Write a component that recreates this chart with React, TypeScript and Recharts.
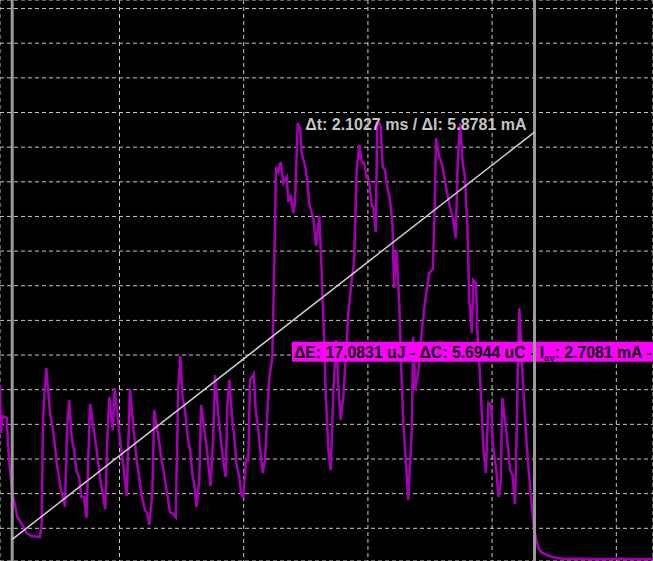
import React from 'react';
import { LineChart, Line, XAxis, YAxis, CartesianGrid, ReferenceLine, ReferenceArea } from 'recharts';

// Sample times (ms)
const timeMs = [
  0.0189, 0.0229, 0.0298, 0.0459, 0.0523, 0.0592, 0.0684, 0.0793, 0.0886, 0.1063,
  0.1264, 0.1465, 0.18, 0.1868, 0.192, 0.2053, 0.2134, 0.2202, 0.2335, 0.2496,
  0.2633, 0.2806, 0.2886, 0.2975, 0.3076, 0.3168, 0.3269, 0.3382, 0.3462, 0.3571,
  0.3671, 0.3812, 0.3945, 0.4066, 0.4215, 0.4428, 0.4509, 0.4589, 0.4726, 0.4807,
  0.4887, 0.502, 0.5161, 0.529, 0.5423, 0.5544, 0.5705, 0.5906, 0.6027, 0.6119,
  0.62, 0.6321, 0.6397, 0.6498, 0.6602, 0.6699, 0.6791, 0.69, 0.7033, 0.7166,
  0.7263, 0.7367, 0.7448, 0.7536, 0.7637, 0.7746, 0.785, 0.7947, 0.8011, 0.81,
  0.8209, 0.8289, 0.8382, 0.8511, 0.8664, 0.8776, 0.8845, 0.8977, 0.9074, 0.9179,
  0.9275, 0.934, 0.942, 0.9541, 0.9622, 0.9718, 0.9823, 0.9891, 0.9984, 1.0093,
  1.0185, 1.0254, 1.0334, 1.0403, 1.0483, 1.0588, 1.0656, 1.0765, 1.0858, 1.095,
  1.1031, 1.1151, 1.1232, 1.13, 1.1393, 1.149, 1.1594, 1.1731, 1.1796, 1.1892,
  1.1997, 1.2065, 1.2174, 1.2267, 1.2335, 1.2508, 1.2577, 1.2641, 1.2802, 1.2911,
  1.3044, 1.314, 1.3233, 1.3313, 1.3406, 1.3503, 1.3607, 1.3716, 1.3825, 1.3905,
  1.401, 1.4118, 1.4211, 1.4348, 1.4441, 1.4549, 1.4654, 1.4751, 1.4843, 1.4952,
  1.5044, 1.5153, 1.5218, 1.5314, 1.5379, 1.5459, 1.5515, 1.5596, 1.5688, 1.5781,
  1.589, 1.599, 1.6051, 1.6152, 1.6264, 1.6333, 1.6425, 1.6627, 1.6763, 1.6828,
  1.6896, 1.7029, 1.7166, 1.7299, 1.7472, 1.7609, 1.7673, 1.7742, 1.7875, 1.8011,
  1.8144, 1.8305, 1.8414, 1.8535, 1.8615, 1.8708, 1.8816, 1.8909, 1.9002, 1.9082,
  1.9179, 1.9243, 1.9352, 1.9404, 1.9485, 1.9565, 1.9646, 1.9754, 1.9847, 1.9956,
  2.0036, 2.0157, 2.0258, 2.0346, 2.0411, 2.054, 2.062, 2.0721, 2.0822, 2.0922,
  2.099, 2.1043, 2.1095, 2.1192, 2.1256, 2.1393, 2.1498, 2.1606, 2.1687, 2.1788,
  2.186, 2.1997, 2.2198, 2.2464, 2.2866, 2.3539, 2.4344, 2.5149, 2.5954, 2.6477,
];

// Measured current (mA)
const currentMa = [
  2.568, 1.875, 2.121, 2.092, 1.644, 1.327, 1.009, 0.836, 0.663, 0.562,
  0.432, 0.389, 0.374, 0.576, 2.106, 2.813, 2.467, 2.178, 1.89, 1.385,
  1.082, 0.807, 1.918, 2.351, 1.803, 1.63, 1.327, 1.226, 0.952, 0.952,
  0.649, 2.294, 1.962, 1.673, 1.226, 0.779, 1.774, 2.395, 1.918, 2.525,
  2.236, 1.774, 1.385, 0.966, 2.51, 2.005, 1.442, 0.952, 0.764, 0.721,
  0.548, 1.009, 2.207, 1.962, 1.731, 1.471, 1.298, 1.038, 0.735, 0.706,
  0.663, 2.539, 2.986, 2.395, 2.207, 1.817, 1.601, 1.24, 1.139, 0.807,
  1.197, 2.279, 2.019, 1.659, 1.11, 1.817, 2.712, 2.149, 1.803, 1.457,
  1.24, 2.25, 2.64, 2.063, 1.803, 1.399, 1.24, 1.009, 0.937, 1.5,
  1.486, 2.64, 2.683, 2.727, 2.207, 1.918, 1.659, 1.298, 1.486, 2.164,
  2.683, 2.957, 4.328, 5.714, 5.641, 5.786, 5.483, 5.569, 5.209, 5.31,
  5.05, 5.194, 6.349, 6.276, 5.916, 5.67, 5.425, 5.18, 4.978, 4.574,
  5.006, 4.184, 3.26, 2.351, 1.644, 1.341, 2.452, 3.217, 2.452, 2.063,
  2.395, 3.03, 3.607, 4.083, 4.328, 5.67, 6.031, 5.786, 5.771, 5.555,
  5.526, 5.165, 5.136, 4.776, 6.349, 6.349, 6.291, 5.714, 5.67, 5.425,
  5.237, 4.877, 3.968, 4.516, 3.751, 2.885, 2.019, 0.908, 1.918, 3.26,
  2.496, 2.755, 3.333, 3.766, 4.184, 4.242, 4.877, 6.132, 5.858, 5.714,
  5.425, 5.136, 4.992, 4.689, 5.771, 6.349, 5.771, 5.569, 4.877, 3.794,
  3.318, 4.083, 4.04, 3.361, 2.885, 2.308, 1.673, 1.298, 2.308, 2.279,
  1.673, 1.37, 0.952, 1.154, 2.38, 1.991, 1.731, 1.341, 1.269, 0.851,
  1.89, 2.929, 3.679, 2.972, 2.496, 1.702, 1.226, 0.807, 0.475, 0.331,
  0.216, 0.151, 0.115, 0.082, 0.057, 0.061, 0.054, 0.059, 0.055, 0.057,
];

const timeDomain = [0.0189, 2.6477];
const currentDomain = [0.0281, 8.1234];
const timeTicks = [0.5, 1.0, 1.5, 2.0, 2.5];
const currentTicks = [0.5, 1.0, 1.5, 2.0, 2.5, 3.0, 3.5, 4.0, 4.5, 5.0, 5.5, 6.0, 6.5, 7.0, 7.5, 8.0];

// Cursor positions
const cursorTimes = [0.068, 2.1707];
const cursorCurrents = [0.34, 6.218];

// Measurement box range
const boxTimes = [1.1944, 2.6477];
const boxCurrents = [2.904, 3.193];

const deltaLabel = 'Δt: 2.1027 ms / ΔI: 5.8781 mA';
const energyLabel = 'ΔE: 17.0831 uJ - ΔC: 5.6944 uC - I';
const energySub = 'av';
const energyTail = ': 2.7081 mA -';

const data = timeMs.map((t, k) => ({ t, i: currentMa[k] }));

const FONT = '"Liberation Sans", Arial, sans-serif';
const W = 653;
const H = 561;

const DeltaText = (props: any) => {
  const vb = props.viewBox || {};
  return (
    <text
      x={vb.x + vb.width - 8}
      y={vb.y - 2}
      textAnchor="end"
      fill="#c4c4c4"
      fontFamily={FONT}
      fontWeight="bold"
      fontSize={16}
    >
      {deltaLabel}
    </text>
  );
};

const EnergyText = (props: any) => {
  const vb = props.viewBox || {};
  return (
    <text
      x={vb.x + 2}
      y={vb.y + vb.height - 4}
      fill="#000"
      fontFamily={FONT}
      fontWeight="bold"
      fontSize={15.8}
    >
      {energyLabel}
      <tspan fontSize={9.5} dy={3}>{energySub}</tspan>
      <tspan fontSize={15.8} dy={-3}>{energyTail}</tspan>
    </text>
  );
};

export default function App() {
  const layer: React.CSSProperties = { position: 'absolute', left: 0, top: 0 };
  return (
    <div style={{ position: 'fixed', left: 0, top: 0, width: W, height: H, background: '#000', overflow: 'hidden' }}>
      <div style={layer}>
        <LineChart width={W} height={H} data={data} margin={{ top: 0, right: 0, bottom: 0, left: 0 }}>
          <XAxis dataKey="t" type="number" domain={timeDomain} ticks={timeTicks} allowDataOverflow hide />
          <YAxis type="number" domain={currentDomain} ticks={currentTicks} allowDataOverflow hide />
          <CartesianGrid stroke="#c8c8c8" strokeDasharray="4 3" strokeWidth={1} />
          <Line
            dataKey="i"
            type="linear"
            stroke="#a600b6"
            strokeWidth={2.5}
            dot={false}
            activeDot={false}
            isAnimationActive={false}
          />
        </LineChart>
      </div>
      <div style={layer}>
        <LineChart width={W} height={H} data={data} margin={{ top: 0, right: 0, bottom: 0, left: 0 }}>
          <XAxis dataKey="t" type="number" domain={timeDomain} allowDataOverflow hide />
          <YAxis type="number" domain={currentDomain} allowDataOverflow hide />
          <ReferenceLine x={cursorTimes[0]} stroke="#9a9a9a" strokeWidth={3} />
          <ReferenceLine x={cursorTimes[1]} stroke="#9a9a9a" strokeWidth={3} />
          <ReferenceLine
            segment={[
              { x: cursorTimes[0], y: cursorCurrents[0] },
              { x: cursorTimes[1], y: cursorCurrents[1] },
            ]}
            stroke="#d0d0d0"
            strokeWidth={1.5}
          />
          <ReferenceArea
            x1={cursorTimes[0]}
            x2={cursorTimes[1]}
            y1={cursorCurrents[0]}
            y2={cursorCurrents[1]}
            fill="none"
            fillOpacity={0}
            stroke="none"
            label={DeltaText}
          />
          <ReferenceArea
            x1={boxTimes[0]}
            x2={boxTimes[1]}
            y1={boxCurrents[0]}
            y2={boxCurrents[1]}
            fill="#ff00ff"
            fillOpacity={1}
            stroke="none"
            label={EnergyText}
          />
        </LineChart>
      </div>
    </div>
  );
}
